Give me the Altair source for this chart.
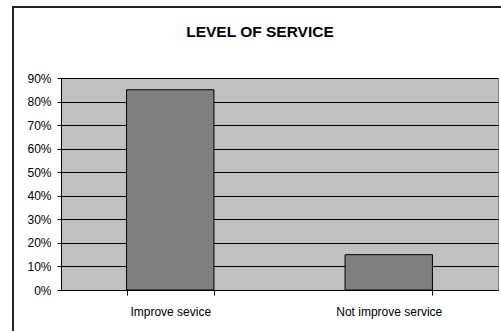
import altair as alt
import pandas as pd

# Survey responses on level of service
categories = ["Improve sevice", "Not improve service"]
shares = [0.85, 0.15]
tick_values = [0.0, 0.1, 0.2, 0.3, 0.4, 0.5, 0.6, 0.7, 0.8, 0.9]
chart_title = ["LEVEL OF SERVICE"]

df = pd.DataFrame({"category": categories, "share": shares})
title_df = pd.DataFrame({"label": chart_title})

FONT = "Liberation Sans"

bars = alt.Chart(df).mark_bar(
    color="#808080", stroke="#000000", strokeWidth=1
).encode(
    x=alt.X(
        "category:N",
        sort=categories,
        title=None,
        scale=alt.Scale(paddingInner=0.6, paddingOuter=0.3),
        axis=alt.Axis(
            labelAngle=0,
            labelFont=FONT,
            labelFontSize=12,
            labelColor="#000000",
            labelPadding=11,
            tickBand="extent",
            tickSize=5,
            tickColor="#000000",
            domainColor="#000000",
            grid=False,
        ),
    ),
    y=alt.Y(
        "share:Q",
        title=None,
        scale=alt.Scale(domain=[0, 0.9], nice=False),
        axis=alt.Axis(
            values=tick_values,
            format=".0%",
            labelFont=FONT,
            labelFontSize=12,
            labelColor="#000000",
            labelPadding=6,
            tickSize=4,
            tickColor="#000000",
            domainColor="#000000",
            gridColor="#000000",
            gridWidth=1,
        ),
    ),
)

# Outer chart frame
frame = alt.Chart(df).mark_rect(
    fill=None, stroke="#222222", strokeWidth=2, clip=False
).encode(
    x=alt.value(-48),
    x2=alt.value(460),
    y=alt.value(-71),
    y2=alt.value(270),
)

# Heading centred on the frame
heading = alt.Chart(title_df).mark_text(
    font=FONT, fontSize=15.5, fontWeight="bold", color="#000000",
    align="center", baseline="alphabetic", clip=False,
).encode(
    text="label:N",
    x=alt.value(199),
    y=alt.value(-41),
)

chart = alt.layer(frame, bars, heading).properties(
    width=437,
    height=212,
    padding={"left": 61, "top": 78, "right": 3, "bottom": 41},
    autosize=alt.AutoSizeParams(type="none"),
    background="#ffffff",
).configure_view(
    fill="#C0C0C0", stroke="#808080", strokeWidth=1
)

chart.save("out.html", embed_options={"renderer": "svg", "actions": False})
